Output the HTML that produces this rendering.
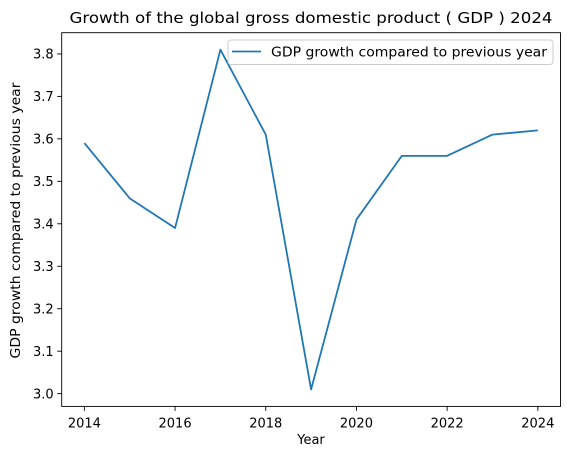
<!DOCTYPE html>
<html><head><meta charset="utf-8"><style>
html,body{margin:0;padding:0;background:#fff;}
svg{display:block;font-family:"DejaVu Sans","Liberation Sans",sans-serif;}
</style></head><body>
<svg id="chart" width="567" height="455" viewBox="0 0 567 455">
<text x="311" y="23" text-anchor="middle" font-size="15.5" textLength="483" lengthAdjust="spacingAndGlyphs" fill="#000">Growth of the global gross domestic product ( GDP ) 2024</text>
<g id="axes"></g>
<text x="311" y="444" text-anchor="middle" font-size="13" fill="#000">Year</text>
<text transform="translate(20,220.5) rotate(-90)" text-anchor="middle" font-size="13" textLength="276" lengthAdjust="spacingAndGlyphs" fill="#000">GDP growth compared to previous year</text>
<g>
<rect x="228" y="40" width="325" height="24.5" rx="3" fill="#fff" fill-opacity="0.8" stroke="#ccc" stroke-width="1"/>
<line x1="232" y1="51.5" x2="261" y2="51.5" stroke="#1f77b4" stroke-width="1.8"/>
<text x="271" y="56.5" font-size="13" textLength="276" lengthAdjust="spacingAndGlyphs" fill="#000">GDP growth compared to previous year</text>
</g>
</svg>
<script>
const years = [2014,2015,2016,2017,2018,2019,2020,2021,2022,2023,2024];
const growth = [3.59,3.46,3.39,3.81,3.61,3.01,3.41,3.56,3.56,3.61,3.62];
const xTicks = [2014,2016,2018,2020,2022,2024];
const yTicks = [3.0,3.1,3.2,3.3,3.4,3.5,3.6,3.7,3.8];

const L=61.7,R=560.5,T=32.7,B=406.4;
const xMin=2013.5,xMax=2024.5,yMin=2.97,yMax=3.85;
const sx=v=>L+(v-xMin)/(xMax-xMin)*(R-L);
const sy=v=>B-(v-yMin)/(yMax-yMin)*(B-T);
const NS="http://www.w3.org/2000/svg";
const g=document.getElementById('axes');
function mk(t,a){const e=document.createElementNS(NS,t);for(const k in a)e.setAttribute(k,a[k]);g.appendChild(e);return e;}

xTicks.forEach(v=>{
  const t=mk('line',{x1:sx(v),x2:sx(v),y1:B,y2:B+4.5,stroke:'#000','stroke-width':0.9});
  
  
  const l=mk('text',{x:sx(v),y:B+21,'text-anchor':'middle','font-size':13,fill:'#000'});
  l.textContent=v;
  
  
});
yTicks.forEach(v=>{
  const t=mk('line',{x1:L-4.5,x2:L,y1:sy(v),y2:sy(v),stroke:'#000','stroke-width':0.9});
  
  
  const l=mk('text',{x:L-8,y:sy(v)+4.7,'text-anchor':'end','font-size':13,fill:'#000'});
  l.textContent=v.toFixed(1);
  
  
});
const pts=years.map((y,i)=>sx(y)+','+sy(growth[i])).join(' ');
const line=mk('polyline',{points:pts,fill:'none',stroke:'#1f77b4','stroke-width':1.8,'stroke-linejoin':'round'});


const frame=mk('rect',{x:L,y:T,width:R-L,height:B-T,fill:'none',stroke:'#000','stroke-width':0.9});


</script>
</body></html>
